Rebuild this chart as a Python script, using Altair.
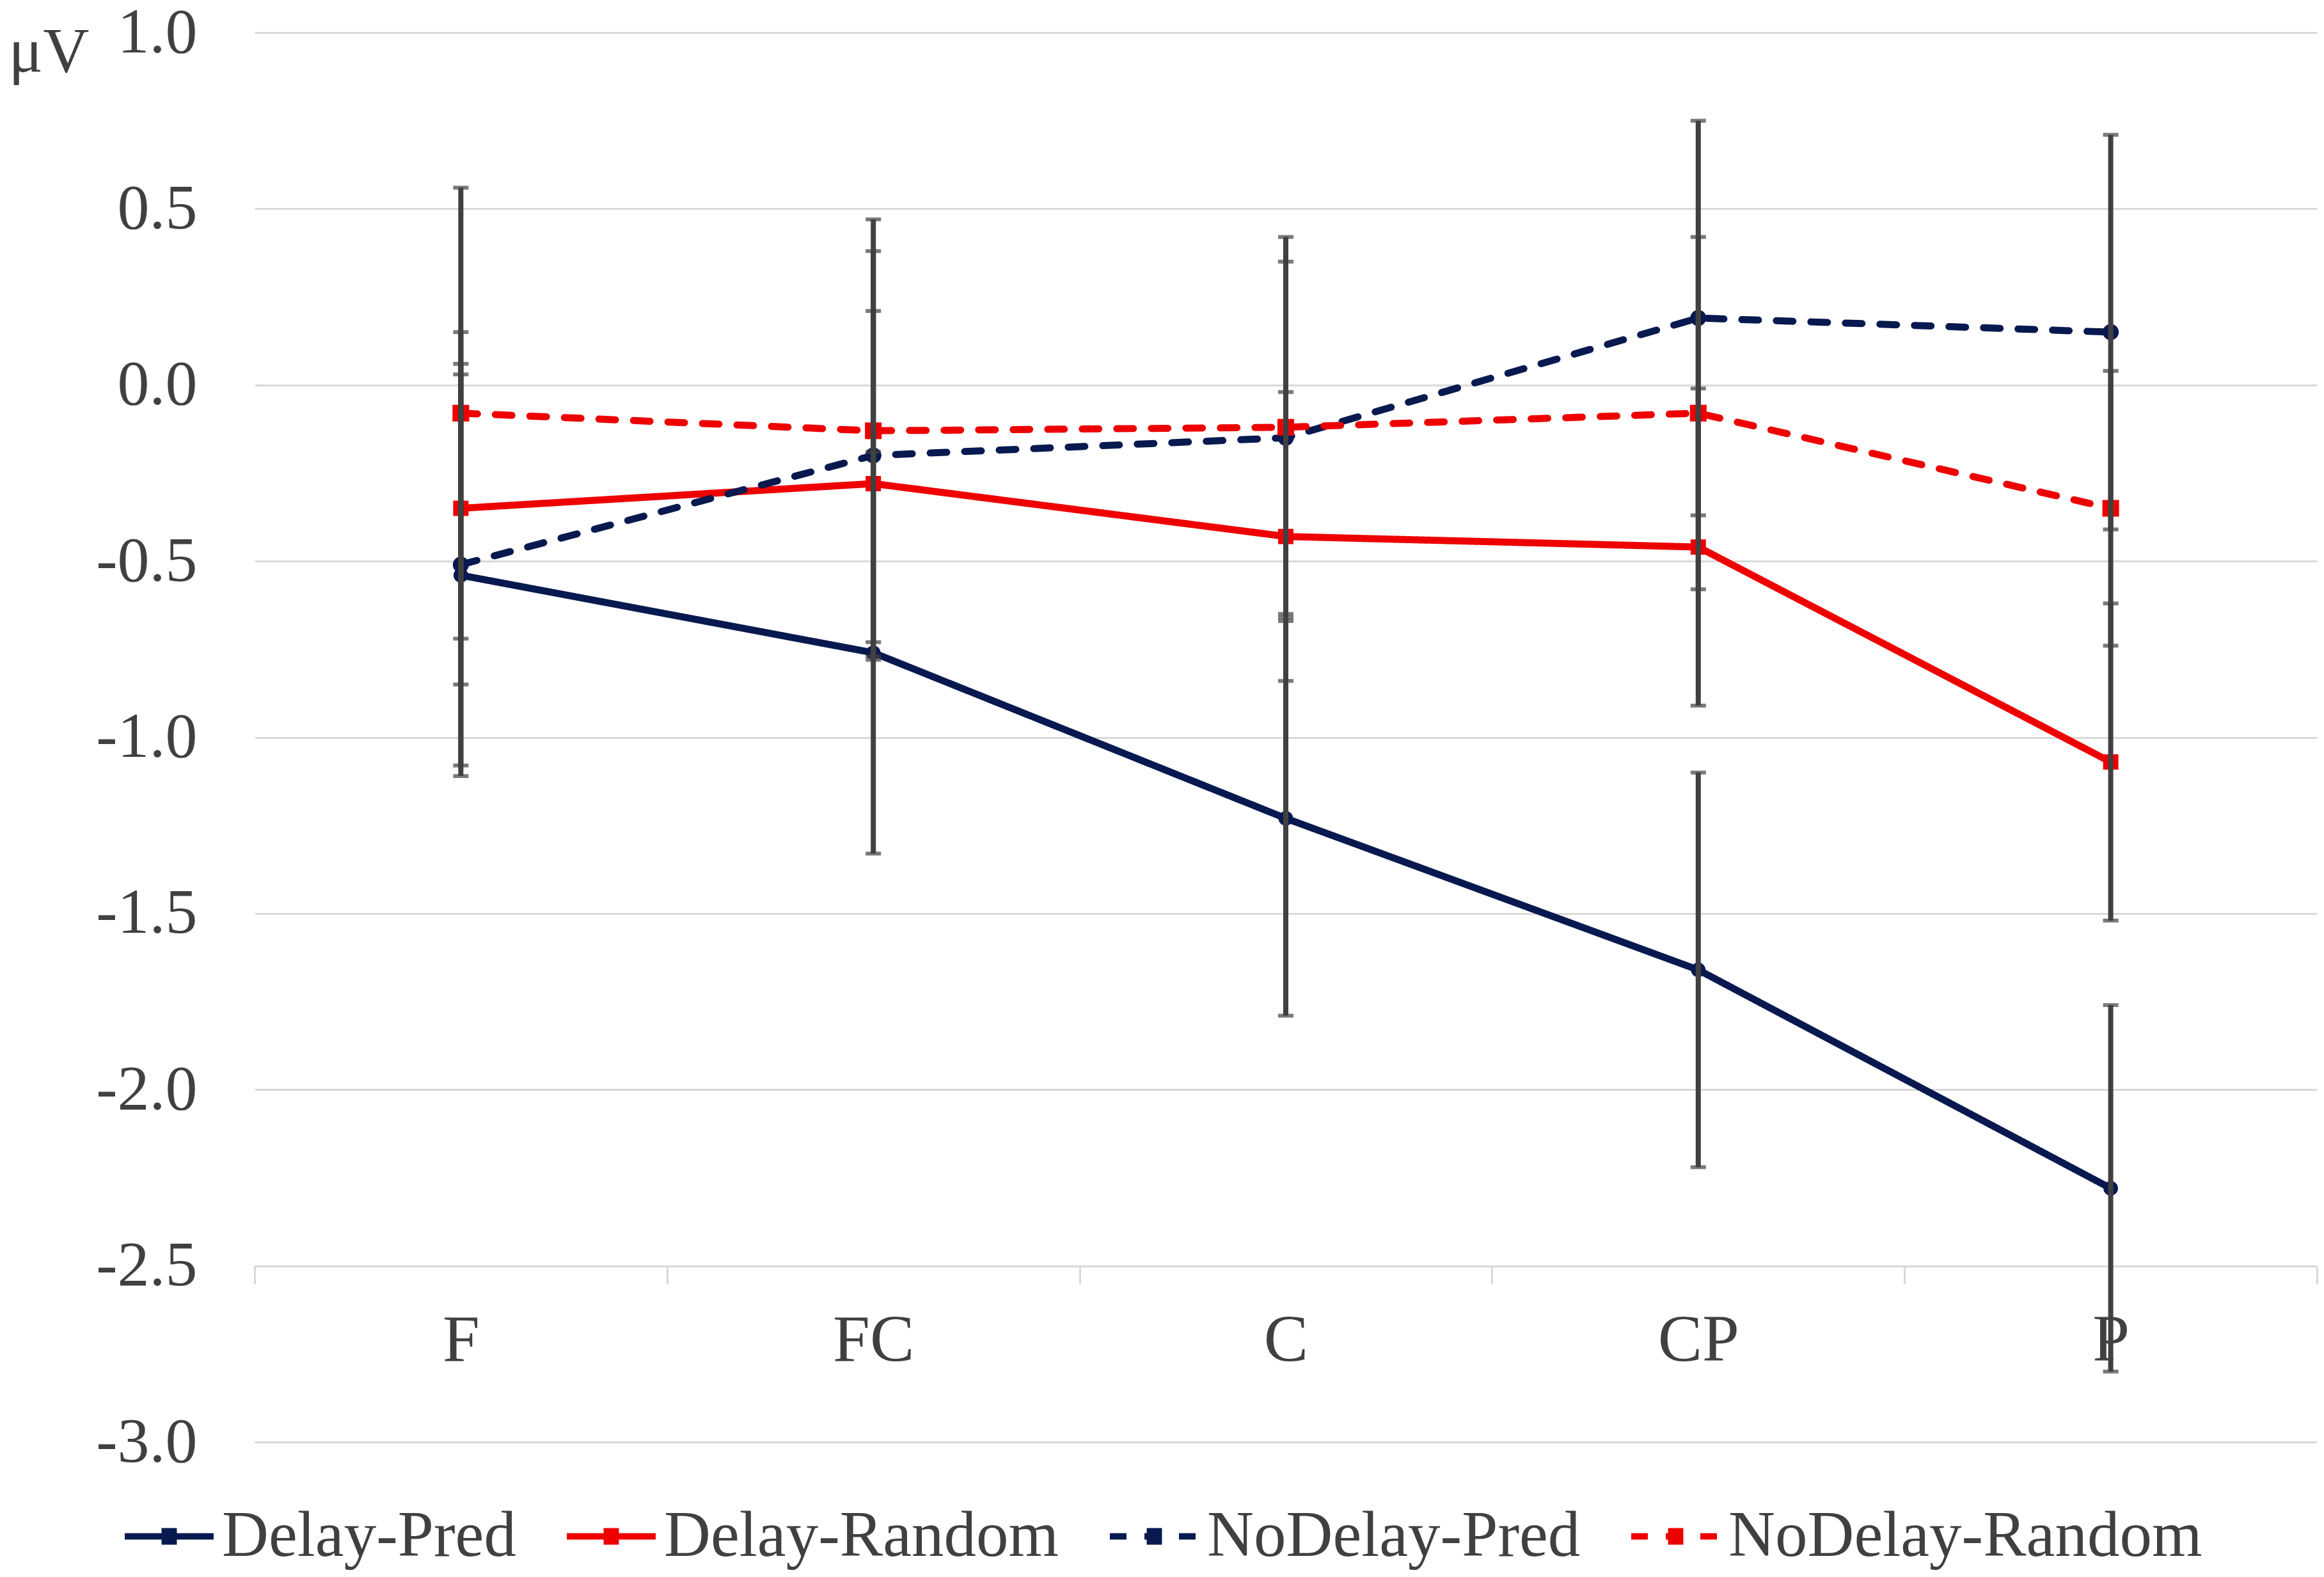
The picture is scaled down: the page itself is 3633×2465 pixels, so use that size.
import altair as alt
import pandas as pd

categories = ["F", "FC", "C", "CP", "P"]
series_names = ["Delay-Pred", "Delay-Random", "NoDelay-Pred", "NoDelay-Random"]

delay_pred = [-0.54, -0.76, -1.23, -1.66, -2.28]
delay_pred_err = [0.57, 0.57, 0.56, 0.56, 0.52]
delay_random = [-0.35, -0.28, -0.43, -0.46, -1.07]
delay_random_err = [0.50, 0.49, 0.41, 0.45, 0.45]
nodelay_pred = [-0.51, -0.20, -0.15, 0.19, 0.15]
nodelay_pred_err = [0.57, 0.58, 0.50, 0.56, 0.56]
nodelay_random = [-0.08, -0.13, -0.12, -0.08, -0.35]
nodelay_random_err = [0.64, 0.60, 0.54, 0.50, 0.39]

y_ticks = [-3.0, -2.5, -2.0, -1.5, -1.0, -0.5, 0.0, 0.5, 1.0]

NAVY = "#07194f"
RED = "#EE0000"
ERR = "#404040"
GRID = "#d9d9d9"
TXT = "#404040"
FONT = "Liberation Serif"
FS = 100
LFS = 101

vals = [delay_pred, delay_random, nodelay_pred, nodelay_random]
errs = [delay_pred_err, delay_random_err, nodelay_pred_err, nodelay_random_err]
rows = []
for s, v, e in zip(series_names, vals, errs):
    for i, c in enumerate(categories):
        rows.append({"series": s, "mseries": s, "cat": c, "idx": i,
                     "value": v[i], "lo": v[i] - e[i], "hi": v[i] + e[i]})
df = pd.DataFrame(rows)

W, H = 3224, 2203
legend_path = ("M-1,0H1"
               "M-0.1,-0.187V0.187M-0.033,-0.187V0.187"
               "M0.033,-0.187V0.187M0.1,-0.187V0.187")

leg = alt.Legend(title=None, orient="none", direction="horizontal",
                 legendX=-208, legendY=2276, symbolType=legend_path,
                 symbolSize=139 * 139, symbolStrokeWidth=10,
                 labelFont=FONT, labelFontSize=LFS, labelColor=TXT,
                 labelLimit=2000, labelOffset=8, columnPadding=59,
                 gridAlign="none", symbolOpacity=1)

color_scale = alt.Scale(domain=series_names, range=[NAVY, RED, NAVY, RED])
mcolor_scale = alt.Scale(domain=series_names, range=[NAVY, RED, NAVY, RED])
dash_scale = alt.Scale(domain=series_names,
                       range=[[1, 0], [1, 0], [26, 28], [26, 28]])
shape_scale = alt.Scale(domain=series_names,
                        range=["circle", "square", "circle", "square"])
size_scale = alt.Scale(domain=series_names, range=[520, 680, 520, 680])

x_enc = alt.X("cat:N", sort=categories, bandPosition=0.5,
              scale=alt.Scale(type="band", paddingInner=0, paddingOuter=0),
              axis=alt.Axis(title=None, orient="bottom", offset=-275,
                            tickBand="extent", tickSize=28, tickColor=GRID,
                            tickWidth=3, domainColor=GRID, domainWidth=3,
                            labelFont=FONT, labelFontSize=104, labelColor=TXT,
                            labelPadding=88, labelBaseline="middle",
                            labelAngle=0, grid=False))

y_scale = alt.Scale(domain=[-3, 1], nice=False, zero=False)
y_axis = alt.Axis(values=y_ticks, title="μV", titleAngle=0, titleX=-322,
                  titleY=60, titleAlign="center", titleBaseline="alphabetic",
                  titleFont=FONT, titleFontSize=FS, titleFontWeight="normal",
                  titleColor=TXT, labelFont=FONT, labelFontSize=FS,
                  labelColor=TXT, labelPadding=90, ticks=False, domain=False,
                  grid=True, gridColor=GRID, gridWidth=3,
                  labelExpr="(datum.value < 0 ? '-' : '') + format(abs(datum.value), '.1f')")

base = alt.Chart(df)

lines = base.mark_line(strokeWidth=11, strokeCap="round", strokeJoin="round").encode(
    x=x_enc,
    y=alt.Y("value:Q", scale=y_scale, axis=y_axis),
    color=alt.Color("series:N", scale=color_scale, legend=leg),
    strokeDash=alt.StrokeDash("series:N", scale=dash_scale, legend=leg),
    order=alt.Order("idx:Q"),
)

points = base.mark_point(filled=True, opacity=1).encode(
    x=x_enc,
    y=alt.Y("value:Q"),
    fill=alt.Fill("mseries:N", scale=mcolor_scale, legend=None),
    shape=alt.Shape("mseries:N", scale=shape_scale, legend=None),
    size=alt.Size("mseries:N", scale=size_scale, legend=None),
)

err_rule = base.mark_rule(color=ERR, strokeWidth=8).encode(
    x=x_enc,
    y=alt.Y("lo:Q"),
    y2=alt.Y2("hi:Q"),
)

cap_lo = base.mark_tick(color=ERR, orient="horizontal", size=24, thickness=6).encode(
    x=x_enc, y=alt.Y("lo:Q"))
cap_hi = base.mark_tick(color=ERR, orient="horizontal", size=24, thickness=6).encode(
    x=x_enc, y=alt.Y("hi:Q"))

chart = alt.layer(lines, points, err_rule, cap_lo, cap_hi).resolve_scale(
    fill="independent", shape="independent", size="independent"
).properties(
    width=W, height=H,
    autosize=alt.AutoSizeParams(type="none"),
    padding={"left": 390, "top": 43, "right": 3, "bottom": 200},
    background="white",
).configure_view(strokeWidth=0)

chart.save("out.html", embed_options={"renderer": "svg", "actions": False})
